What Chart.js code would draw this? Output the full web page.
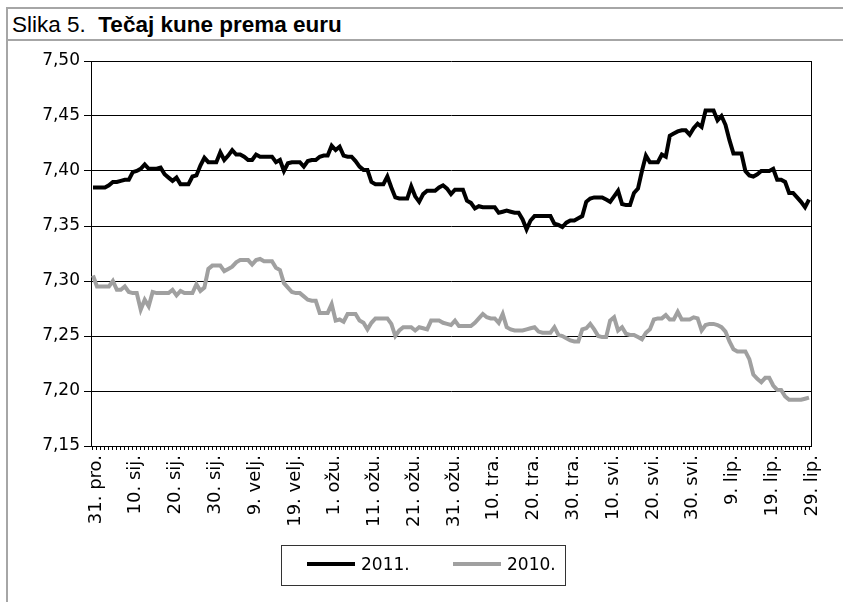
<!DOCTYPE html>
<html>
<head>
<meta charset="utf-8">
<script src="https://cdn.jsdelivr.net/npm/chart.js@4"></script>
<style>
  html, body { margin: 0; padding: 0; background: #fff; }
  body { width: 843px; height: 602px; position: relative; overflow: hidden; }
  #frame { position: absolute; left: 6px; top: 7px; width: 840px; height: 600px;
           border-left: 2px solid #a6a6a6; border-top: 2px solid #a6a6a6; }
  #sep { position: absolute; left: 6px; top: 39px; width: 843px; height: 0;
         border-top: 2px solid #a6a6a6; }
  #title { position: absolute; left: 12px; top: 12px; font-family: 'Liberation Sans', Arial, sans-serif;
           font-size: 22.5px; line-height: 25px; color: #000; white-space: pre; }
  #title b { font-weight: bold; }
  canvas { position: absolute; left: 0; top: 0; }
  #legend { position: absolute; left: 281px; top: 545px; width: 285px; height: 41px;
            border: 1px solid #333; box-sizing: border-box; }
  .sw { position: absolute; top: 16px; width: 48px; height: 4px; }
  .lt { position: absolute; top: 8px; font-family: 'DejaVu Sans', sans-serif; font-size: 17px;
        line-height: 20px; color: #000; white-space: pre; }
</style>
</head>
<body>
<div id="frame"></div>
<div id="sep"></div>
<div id="title">Slika 5.  <b>Tečaj kune prema euru</b></div>
<canvas id="c" width="843" height="602"></canvas>
<div id="legend"></div>
<script>
// ---- categories (31 Dec .. 29 Jun, daily) ----
const monthNames = ['sij.', 'velj.', 'ožu.', 'tra.', 'svi.', 'lip.'];
const monthDays = [31, 28, 31, 30, 31, 29];
const categories = ['31. pro.'];
monthNames.forEach((m, k) => { for (let d = 1; d <= monthDays[k]; d++) categories.push(d + '. ' + m); });
const tickEvery = 10;

// ---- y axis ----
const yMin = 7.15, yMax = 7.50, yStep = 0.05;

// ---- series ----
const seriesNames = ['2011.', '2010.'];
const kuna2011 = [
  7.385,7.385,7.385,7.385,7.387,7.390,7.390,7.391,7.392,7.392,
  7.399,7.400,7.402,7.406,7.402,7.402,7.402,7.403,7.397,7.394,
  7.391,7.394,7.388,7.388,7.388,7.395,7.396,7.405,7.412,7.408,
  7.408,7.408,7.417,7.410,7.414,7.419,7.415,7.415,7.413,7.410,
  7.410,7.415,7.413,7.413,7.413,7.413,7.408,7.410,7.400,7.407,
  7.408,7.408,7.408,7.404,7.409,7.410,7.410,7.413,7.414,7.414,
  7.423,7.419,7.422,7.414,7.413,7.413,7.409,7.404,7.401,7.401,
  7.390,7.388,7.388,7.388,7.395,7.385,7.376,7.375,7.375,7.375,
  7.386,7.377,7.372,7.379,7.382,7.382,7.382,7.385,7.387,7.384,
  7.379,7.383,7.383,7.383,7.373,7.371,7.366,7.368,7.367,7.367,
  7.367,7.367,7.362,7.363,7.364,7.363,7.362,7.362,7.356,7.347,
  7.355,7.359,7.359,7.359,7.359,7.359,7.352,7.351,7.349,7.353,
  7.355,7.355,7.357,7.359,7.372,7.375,7.376,7.376,7.376,7.374,
  7.372,7.377,7.382,7.370,7.369,7.369,7.380,7.384,7.400,7.414,
  7.408,7.408,7.408,7.415,7.413,7.432,7.434,7.436,7.437,7.437,
  7.433,7.439,7.443,7.440,7.455,7.455,7.455,7.446,7.450,7.442,
  7.428,7.416,7.416,7.416,7.400,7.396,7.395,7.397,7.400,7.400,
  7.400,7.402,7.392,7.392,7.390,7.380,7.380,7.376,7.372,7.367,
  7.374
];
const kuna2010 = [
  7.305,7.295,7.295,7.295,7.295,7.300,7.292,7.292,7.295,7.290,
  7.289,7.289,7.274,7.283,7.277,7.290,7.289,7.289,7.289,7.289,
  7.292,7.287,7.291,7.289,7.289,7.289,7.297,7.291,7.294,7.311,
  7.314,7.314,7.314,7.309,7.311,7.313,7.317,7.319,7.319,7.319,
  7.315,7.319,7.320,7.318,7.318,7.318,7.312,7.310,7.298,7.294,
  7.290,7.289,7.289,7.286,7.283,7.282,7.282,7.271,7.271,7.271,
  7.279,7.264,7.265,7.263,7.270,7.270,7.270,7.264,7.262,7.256,
  7.262,7.266,7.266,7.266,7.266,7.261,7.250,7.255,7.258,7.258,
  7.258,7.255,7.258,7.257,7.256,7.264,7.264,7.264,7.262,7.261,
  7.260,7.264,7.259,7.259,7.259,7.259,7.262,7.266,7.270,7.267,
  7.266,7.266,7.262,7.270,7.258,7.256,7.255,7.255,7.255,7.256,
  7.257,7.258,7.254,7.253,7.253,7.253,7.258,7.251,7.250,7.248,
  7.246,7.245,7.245,7.256,7.257,7.261,7.256,7.250,7.249,7.249,
  7.264,7.267,7.255,7.258,7.252,7.251,7.251,7.249,7.247,7.253,
  7.256,7.265,7.266,7.266,7.269,7.265,7.265,7.272,7.265,7.265,
  7.265,7.267,7.266,7.255,7.260,7.261,7.261,7.260,7.258,7.254,
  7.245,7.238,7.236,7.236,7.236,7.229,7.215,7.211,7.208,7.212,
  7.212,7.205,7.201,7.201,7.195,7.192,7.192,7.192,7.192,7.193,
  7.194
];
const seriesColors = ['#000000', '#a0a0a0'];

// ---- HTML legend ----
const legend = document.getElementById('legend');
[[25, 79], [171, 225]].forEach((pos, k) => {
  const sw = document.createElement('div');
  sw.className = 'sw'; sw.style.left = pos[0] + 'px'; sw.style.background = seriesColors[k];
  legend.appendChild(sw);
  const t = document.createElement('div');
  t.className = 'lt'; t.style.left = pos[1] + 'px'; t.textContent = seriesNames[k];
  legend.appendChild(t);
});

const rightBorder = {
  id: 'rightBorder',
  afterDatasetsDraw(chart) {
    const a = chart.chartArea, ctx = chart.ctx;
    ctx.save();
    ctx.strokeStyle = '#000'; ctx.lineWidth = 1;
    ctx.beginPath();
    ctx.moveTo(Math.round(a.right) + 0.5, a.top);
    ctx.lineTo(Math.round(a.right) + 0.5, a.bottom);
    ctx.stroke();
    ctx.restore();
  }
};

const yFont = { family: "'DejaVu Sans', sans-serif", size: 17 };
const xFont = { family: "'DejaVu Sans', sans-serif", size: 18 };

new Chart(document.getElementById('c'), {
  type: 'line',
  data: {
    labels: categories,
    datasets: [
      { label: seriesNames[0], data: kuna2011, borderColor: seriesColors[0], borderWidth: 4,
        pointRadius: 0, tension: 0, fill: false },
      { label: seriesNames[1], data: kuna2010, borderColor: seriesColors[1], borderWidth: 4,
        pointRadius: 0, tension: 0, fill: false }
    ]
  },
  options: {
    responsive: false,
    animation: false,
    devicePixelRatio: 1,
    layout: { padding: { left: 0, top: 61, right: 32, bottom: 56 } },
    plugins: { legend: { display: false }, tooltip: { enabled: false }, title: { display: false } },
    scales: {
      x: {
        type: 'category',
        offset: true,
        grid: { drawOnChartArea: false, drawTicks: true, tickLength: 4, color: '#000', offset: false },
        border: { color: '#000', width: 1 },
        ticks: {
          autoSkip: false, minRotation: 90, maxRotation: 90, padding: 5, labelOffset: 3,
          color: '#000', font: xFont,
          callback: (v, i) => (i % tickEvery === 0 ? categories[i] : '')
        },
        afterFit: (s) => { s.height = 100; }
      },
      y: {
        min: yMin, max: yMax,
        grid: { color: '#000', lineWidth: 1, tickLength: 7 },
        border: { color: '#000', width: 1 },
        ticks: {
          stepSize: yStep, padding: 4, color: '#000', font: yFont,
          callback: (v) => Number(v).toFixed(2).replace('.', ',')
        },
        afterFit: (s) => { s.width = 91; }
      }
    }
  },
  plugins: [rightBorder]
});
</script>
</body>
</html>
